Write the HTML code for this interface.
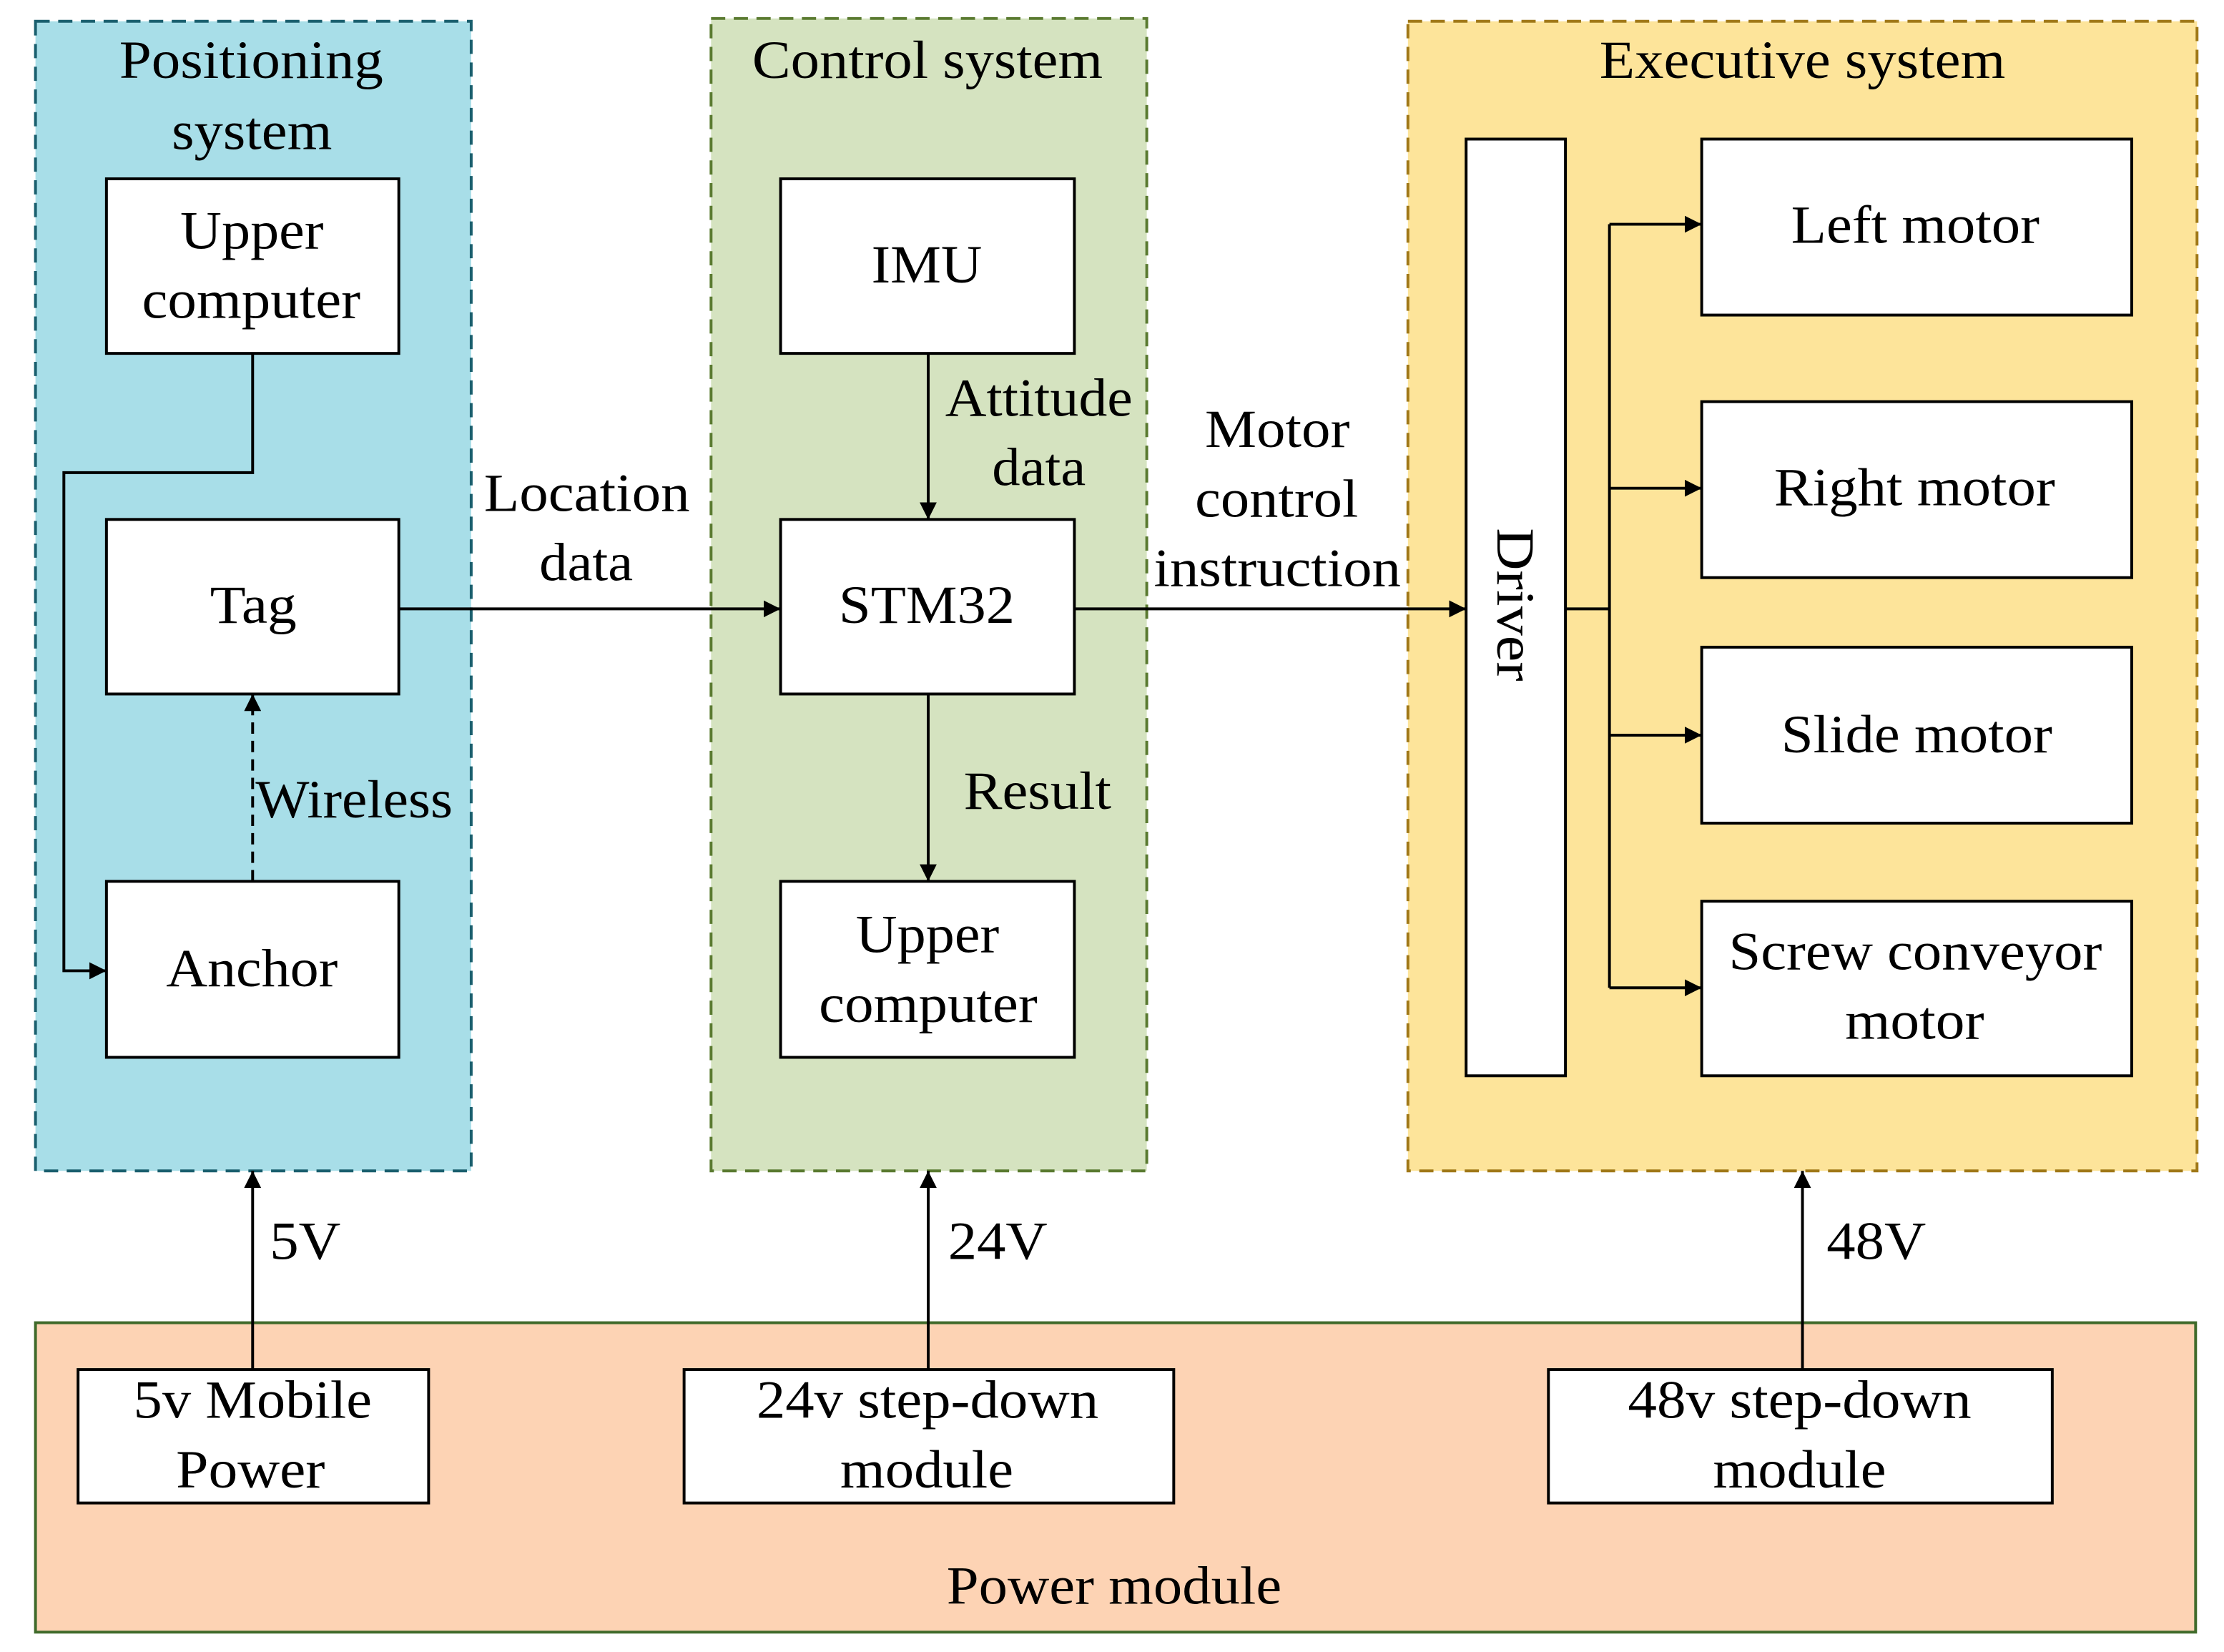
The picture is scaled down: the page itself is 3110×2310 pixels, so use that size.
<!DOCTYPE html>
<html><head><meta charset="utf-8"><style>html,body{margin:0;padding:0;background:#fff}svg{display:block}</style></head><body>
<svg xmlns="http://www.w3.org/2000/svg" width="3110" height="2310" viewBox="0 0 1567 1164" preserveAspectRatio="none">
<defs>
<marker id="b" viewBox="0 0 10 10" refX="10" refY="5" markerWidth="12" markerHeight="12" markerUnits="userSpaceOnUse" orient="auto"><path d="M0,0L10,5L0,10z" fill="#000"/></marker></defs>
<rect x="25" y="15" width="307" height="810" fill="#a8dee8" stroke="#1a5f6e" stroke-width="2" stroke-dasharray="10,6"/>
<rect x="501" y="13" width="307" height="812" fill="#d5e3c0" stroke="#5a7a30" stroke-width="2" stroke-dasharray="10,6"/>
<rect x="992" y="15" width="556" height="810" fill="#fde49a" stroke="#a07818" stroke-width="2" stroke-dasharray="10,6"/>
<rect x="25" y="932" width="1522" height="218" fill="#fdd3b4" stroke="#3f6a2a" stroke-width="2"/>
<g fill="#fff" stroke="#000" stroke-width="2">
<rect x="75" y="126" width="206" height="123"/><rect x="75" y="366" width="206" height="123"/><rect x="75" y="621" width="206" height="124"/>
<rect x="550" y="126" width="207" height="123"/><rect x="550" y="366" width="207" height="123"/><rect x="550" y="621" width="207" height="124"/>
<rect x="1033" y="98" width="70" height="660"/>
<rect x="1199" y="98" width="303" height="124"/><rect x="1199" y="283" width="303" height="124"/><rect x="1199" y="456" width="303" height="124"/><rect x="1199" y="635" width="303" height="123"/>
<rect x="55" y="965" width="247" height="94"/><rect x="482" y="965" width="345" height="94"/><rect x="1091" y="965" width="355" height="94"/>
</g>
<g fill="none" stroke="#000" stroke-width="2">
<path d="M178,249V333H45V684H75" marker-end="url(#b)"/>
<path d="M281,429H550" marker-end="url(#b)"/>
<path d="M178,621V489" stroke-dasharray="8,5" marker-end="url(#b)"/>
<path d="M654,249V366" marker-end="url(#b)"/>
<path d="M654,489V621" marker-end="url(#b)"/>
<path d="M757,429H1033" marker-end="url(#b)"/>
<path d="M1103,429H1134M1134,158V696"/>
<path d="M1134,158H1199" marker-end="url(#b)"/><path d="M1134,344H1199" marker-end="url(#b)"/><path d="M1134,518H1199" marker-end="url(#b)"/><path d="M1134,696H1199" marker-end="url(#b)"/>
<path d="M178,965V825" marker-end="url(#b)"/><path d="M654,965V825" marker-end="url(#b)"/><path d="M1270,965V825" marker-end="url(#b)"/>
</g>
<g font-family="Liberation Serif, serif" font-size="38" fill="#000">
<text x="84" y="55" textLength="186" lengthAdjust="spacingAndGlyphs">Positioning</text>
<text x="121" y="105" textLength="113" lengthAdjust="spacingAndGlyphs">system</text>
<text x="127" y="175" textLength="101" lengthAdjust="spacingAndGlyphs">Upper</text>
<text x="100" y="224" textLength="154" lengthAdjust="spacingAndGlyphs">computer</text>
<text x="148" y="439" textLength="61" lengthAdjust="spacingAndGlyphs">Tag</text>
<text x="117" y="695" textLength="121" lengthAdjust="spacingAndGlyphs">Anchor</text>
<text x="180" y="576" textLength="139" lengthAdjust="spacingAndGlyphs">Wireless</text>
<text x="341" y="360" textLength="145" lengthAdjust="spacingAndGlyphs">Location</text>
<text x="380" y="409" textLength="66" lengthAdjust="spacingAndGlyphs">data</text>
<text x="530" y="55" textLength="247" lengthAdjust="spacingAndGlyphs">Control system</text>
<text x="614" y="199" textLength="78" lengthAdjust="spacingAndGlyphs">IMU</text>
<text x="666" y="293" textLength="132" lengthAdjust="spacingAndGlyphs">Attitude</text>
<text x="699" y="342" textLength="66" lengthAdjust="spacingAndGlyphs">data</text>
<text x="591" y="439" textLength="124" lengthAdjust="spacingAndGlyphs">STM32</text>
<text x="679" y="570" textLength="104" lengthAdjust="spacingAndGlyphs">Result</text>
<text x="603" y="671" textLength="101" lengthAdjust="spacingAndGlyphs">Upper</text>
<text x="577" y="720" textLength="154" lengthAdjust="spacingAndGlyphs">computer</text>
<text x="849" y="315" textLength="102" lengthAdjust="spacingAndGlyphs">Motor</text>
<text x="842" y="364" textLength="115" lengthAdjust="spacingAndGlyphs">control</text>
<text x="813" y="413" textLength="174" lengthAdjust="spacingAndGlyphs">instruction</text>
<text x="1127" y="55" textLength="286" lengthAdjust="spacingAndGlyphs">Executive system</text>
<text transform="translate(1055,372) rotate(90)" x="0" y="0" textLength="108" lengthAdjust="spacingAndGlyphs">Driver</text>
<text x="1262" y="171" textLength="175" lengthAdjust="spacingAndGlyphs">Left motor</text>
<text x="1250" y="356" textLength="198" lengthAdjust="spacingAndGlyphs">Right motor</text>
<text x="1255" y="530" textLength="191" lengthAdjust="spacingAndGlyphs">Slide motor</text>
<text x="1218" y="683" textLength="263" lengthAdjust="spacingAndGlyphs">Screw conveyor</text>
<text x="1300" y="732" textLength="98" lengthAdjust="spacingAndGlyphs">motor</text>
<text x="190" y="887" textLength="50" lengthAdjust="spacingAndGlyphs">5V</text>
<text x="668" y="887" textLength="70" lengthAdjust="spacingAndGlyphs">24V</text>
<text x="1287" y="887" textLength="70" lengthAdjust="spacingAndGlyphs">48V</text>
<text x="94" y="999" textLength="168" lengthAdjust="spacingAndGlyphs">5v Mobile</text>
<text x="124" y="1048" textLength="105" lengthAdjust="spacingAndGlyphs">Power</text>
<text x="533" y="999" textLength="241" lengthAdjust="spacingAndGlyphs">24v step-down</text>
<text x="592" y="1048" textLength="122" lengthAdjust="spacingAndGlyphs">module</text>
<text x="1147" y="999" textLength="242" lengthAdjust="spacingAndGlyphs">48v step-down</text>
<text x="1207" y="1048" textLength="122" lengthAdjust="spacingAndGlyphs">module</text>
<text x="667" y="1130" textLength="236" lengthAdjust="spacingAndGlyphs">Power module</text>
</g>
</svg>
</body></html>
